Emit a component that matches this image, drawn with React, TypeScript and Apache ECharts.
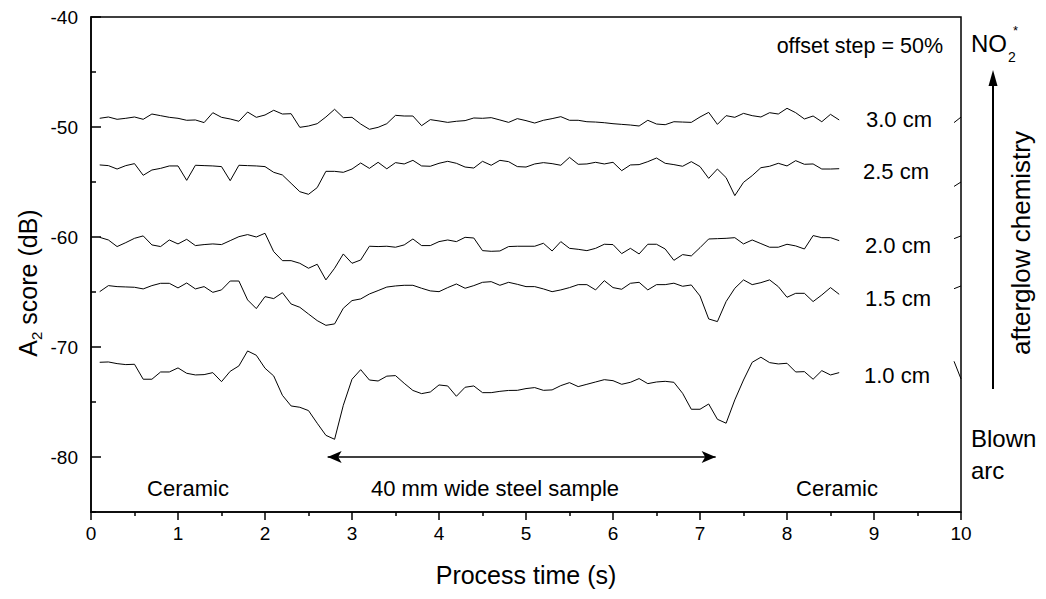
import React, { useEffect, useRef } from 'react';
import * as echarts from 'echarts';

const times = [
  0.1, 0.2, 0.3, 0.4, 0.5, 0.6, 0.7, 0.8, 0.9, 1.0, 1.1, 1.2, 1.3, 1.4, 1.5, 1.6, 1.7, 1.8, 1.9, 2.0,
  2.1, 2.2, 2.3, 2.4, 2.5, 2.6, 2.7, 2.8, 2.9, 3.0, 3.1, 3.2, 3.3, 3.4, 3.5, 3.6, 3.7, 3.8, 3.9, 4.0,
  4.1, 4.2, 4.3, 4.4, 4.5, 4.6, 4.7, 4.8, 4.9, 5.0, 5.1, 5.2, 5.3, 5.4, 5.5, 5.6, 5.7, 5.8, 5.9, 6.0,
  6.1, 6.2, 6.3, 6.4, 6.5, 6.6, 6.7, 6.8, 6.9, 7.0, 7.1, 7.2, 7.3, 7.4, 7.5, 7.6, 7.7, 7.8, 7.9, 8.0,
  8.1, 8.2, 8.3, 8.4, 8.5, 8.6,
];

const s30 = [
  -49.21, -49.09, -49.30, -49.21, -49.09, -49.30, -48.82, -48.97, -49.12, -49.21,
  -49.39, -49.36, -49.60, -48.70, -49.12, -49.27, -49.48, -48.64, -49.12, -48.91,
  -48.48, -48.82, -48.79, -50.03, -49.91, -49.70, -49.09, -48.39, -49.15, -49.12,
  -49.73, -50.21, -50.03, -49.70, -48.94, -49.00, -49.00, -49.88, -49.33, -49.45,
  -49.58, -49.48, -49.42, -49.18, -49.21, -49.15, -49.36, -49.58, -49.24, -49.42,
  -49.64, -49.39, -49.24, -49.06, -49.39, -49.39, -49.52, -49.55, -49.61, -49.70,
  -49.76, -49.82, -49.91, -49.39, -49.73, -49.79, -49.52, -49.55, -49.58, -49.09,
  -48.67, -49.76, -48.97, -49.12, -48.76, -48.97, -49.09, -48.70, -48.82, -48.30,
  -48.70, -49.27, -49.00, -49.52, -48.85, -49.36,
];

const s25 = [
  -53.45, -53.51, -53.82, -53.51, -53.33, -54.39, -53.91, -53.76, -53.54, -53.54,
  -54.85, -53.48, -53.51, -53.54, -53.60, -54.88, -53.48, -53.51, -53.54, -53.60,
  -54.12, -54.36, -55.12, -55.88, -56.12, -55.51, -54.03, -54.03, -54.12, -53.82,
  -53.27, -53.76, -53.21, -53.80, -53.24, -53.36, -53.03, -53.54, -53.57, -53.30,
  -53.12, -53.30, -53.64, -53.73, -53.12, -53.48, -53.03, -53.15, -53.60, -53.64,
  -53.36, -53.24, -53.33, -53.48, -52.76, -53.39, -53.36, -53.21, -53.36, -53.21,
  -53.97, -53.45, -53.42, -53.15, -52.82, -53.30, -53.42, -53.57, -53.15, -53.60,
  -54.67, -53.82, -54.60, -56.24, -55.03, -54.42, -53.70, -53.57, -53.30, -53.54,
  -53.06, -53.39, -53.36, -53.82, -53.82, -53.79,
];

const s20 = [
  -60.03, -60.27, -60.87, -60.51, -60.12, -59.90, -60.72, -60.87, -60.27, -60.63,
  -60.21, -60.78, -60.69, -60.63, -60.69, -60.33, -59.97, -59.78, -60.00, -59.66,
  -61.33, -62.15, -62.15, -62.39, -62.84, -62.48, -63.90, -62.84, -61.54, -62.39,
  -62.09, -60.84, -60.87, -60.84, -60.93, -60.72, -60.18, -60.78, -60.78, -60.42,
  -60.27, -60.42, -60.03, -60.09, -61.24, -61.30, -61.27, -60.87, -60.84, -60.84,
  -60.84, -60.57, -61.27, -60.42, -61.03, -61.12, -61.24, -61.03, -60.66, -60.69,
  -61.51, -61.03, -61.54, -60.66, -60.66, -61.09, -62.12, -61.60, -61.72, -60.97,
  -60.18, -60.15, -60.12, -60.06, -60.63, -60.27, -60.60, -60.93, -60.93, -60.66,
  -60.81, -61.09, -59.87, -60.06, -60.06, -60.33,
];

const s15 = [
  -64.97, -64.42, -64.51, -64.54, -64.57, -64.72, -64.42, -64.21, -64.21, -64.63,
  -64.18, -64.72, -64.51, -65.03, -64.81, -64.00, -64.00, -65.72, -66.51, -65.42,
  -65.60, -65.06, -66.09, -66.39, -67.00, -67.60, -68.03, -67.90, -66.48, -65.78,
  -65.63, -65.18, -64.87, -64.55, -64.45, -64.39, -64.39, -64.66, -64.90, -64.97,
  -64.60, -64.27, -64.66, -64.42, -64.12, -64.06, -64.39, -64.12, -64.30, -64.51,
  -64.51, -64.72, -64.97, -64.81, -64.60, -64.33, -64.33, -64.81, -63.97, -64.60,
  -64.75, -64.21, -64.12, -64.81, -64.33, -64.33, -64.20, -64.48, -64.36, -65.36,
  -67.45, -67.69, -65.87, -64.66, -63.90, -64.33, -64.15, -63.90, -64.51, -65.48,
  -65.12, -65.12, -65.87, -65.27, -64.60, -65.21,
];

const s10 = [
  -71.39, -71.36, -71.51, -71.60, -71.57, -72.93, -72.93, -72.27, -72.27, -71.90,
  -72.39, -72.54, -72.51, -72.33, -73.15, -72.21, -71.72, -70.36, -70.75, -71.93,
  -72.63, -74.39, -75.36, -75.48, -75.78, -76.93, -78.03, -78.39, -75.30, -72.93,
  -72.06, -73.00, -73.09, -72.65, -72.60, -73.30, -73.95, -74.24, -74.09, -73.45,
  -73.54, -74.48, -73.66, -73.54, -74.15, -74.15, -74.03, -73.95, -73.94, -73.78,
  -73.69, -73.94, -73.90, -73.51, -73.24, -73.60, -73.39, -73.18, -72.97, -73.06,
  -73.39, -73.21, -72.87, -73.33, -73.18, -73.12, -73.21, -74.21, -75.66, -75.66,
  -75.18, -76.57, -76.93, -74.81, -73.00, -71.39, -70.93, -71.42, -71.54, -71.48,
  -72.27, -72.24, -72.93, -72.15, -72.54, -72.33,
];

// short segments visible at the right edge of the frame
const tailTimes = [9.92, 10.0];
const tail30 = [-49.6, -49.1];
const tail25 = [-55.4, -55.0];
const tail20 = [-60.15, -59.9];
const tail15 = [-64.7, -64.45];
const tail10 = [-71.3, -72.9];

const seriesNames = ['3.0 cm', '2.5 cm', '2.0 cm', '1.5 cm', '1.0 cm'];
const seriesValues = [s30, s25, s20, s15, s10];
const seriesTails = [tail30, tail25, tail20, tail15, tail10];

const yLabels = [-80, -70, -60, -50, -40];
const yMinorTicks = [-85, -75, -65, -55, -45];

const sampleArrow = { from: 2.72, to: 7.18, y: -80 };

const FONT = 'Liberation Sans, Arial, sans-serif';

export default function App() {
  const ref = useRef<HTMLDivElement>(null);
  useEffect(() => {
    if (!ref.current) return;
    const chart = echarts.init(ref.current, undefined, { renderer: 'svg' });

    const series: any[] = seriesValues.map((vals, si) => {
      const data: any[] = times.map((t, i) => [t, vals[i]]);
      data.push([9.0, null]);
      tailTimes.forEach((t, i) => data.push([t, seriesTails[si][i]]));
      return {
        name: seriesNames[si],
        type: 'line',
        data,
        showSymbol: false,
        symbol: 'none',
        connectNulls: false,
        lineStyle: { color: '#000', width: 1 },
        silent: true,
      };
    });

    series.push({
      type: 'line',
      data: [],
      markLine: {
        silent: true,
        symbol: ['arrow', 'arrow'],
        symbolSize: [9, 14],
        label: { show: false },
        lineStyle: { color: '#000', width: 1.5, type: 'solid' },
        data: [[
          { coord: [sampleArrow.from, sampleArrow.y] },
          { coord: [sampleArrow.to, sampleArrow.y] },
        ]],
      },
    });

    const textStyle = (txt: string, x: number, y: number, size = 20, extra: any = {}) => ({
      type: 'text',
      x,
      y,
      style: {
        text: txt,
        fontFamily: FONT,
        fontSize: size,
        fill: '#000',
        textVerticalAlign: 'middle',
        verticalAlign: 'middle',
        ...extra,
      },
    });

    const option: any = {
      animation: false,
      backgroundColor: '#fff',
      grid: {
        left: 91, right: 85, top: 17, bottom: 87,
        show: true, borderColor: '#000', borderWidth: 1.5, backgroundColor: 'transparent',
      },
      xAxis: {
        type: 'value',
        min: 0, max: 10, interval: 1,
        axisLine: { lineStyle: { color: '#000', width: 1.5 } },
        axisTick: { show: true, inside: false, length: 8, lineStyle: { color: '#000', width: 1.5 } },
        minorTick: { show: true, splitNumber: 2, length: 4, lineStyle: { color: '#000', width: 1.5 } },
        axisLabel: { color: '#000', fontSize: 19, fontFamily: FONT, margin: 12 },
        splitLine: { show: false },
        name: 'Process time (s)',
        nameLocation: 'middle',
        nameGap: 50,
        nameTextStyle: { color: '#000', fontSize: 25, fontFamily: FONT },
      },
      yAxis: [
        {
          type: 'value',
          min: -85, max: -40,
          axisLine: { lineStyle: { color: '#000', width: 1.5 } },
          axisTick: { show: true, inside: true, length: 10, customValues: yLabels, lineStyle: { color: '#000', width: 1.5 } },
          axisLabel: { color: '#000', fontSize: 19, fontFamily: FONT, margin: 13, customValues: yLabels },
          splitLine: { show: false },
        },
        {
          type: 'value',
          min: -85, max: -40,
          position: 'left',
          axisLine: { show: false },
          axisTick: { show: true, inside: true, length: 5, customValues: yMinorTicks, lineStyle: { color: '#000', width: 1.5 } },
          axisLabel: { show: false },
          splitLine: { show: false },
        },
      ],
      series,
      graphic: [
        {
          type: 'text',
          x: 28,
          y: 283,
          rotation: Math.PI / 2,
          style: {
            text: '{a|A}{s|2}{a| score (dB)}',
            fill: '#000',
            fontFamily: FONT,
            align: 'center', textAlign: 'center', verticalAlign: 'middle', textVerticalAlign: 'middle',
            rich: {
              a: { fontSize: 25, fontFamily: FONT, fill: '#000', lineHeight: 32, verticalAlign: 'middle' },
              s: { fontSize: 15, fontFamily: FONT, fill: '#000', lineHeight: 32, verticalAlign: 'bottom' },
            },
          },
        },
        textStyle('offset step = 50%', 943, 46, 21.5, { textAlign: 'right', align: 'right' }),
        textStyle('3.0 cm', 866, 119, 22),
        textStyle('2.5 cm', 863, 171, 22),
        textStyle('2.0 cm', 865, 245, 22),
        textStyle('1.5 cm', 865, 298, 22),
        textStyle('1.0 cm', 864, 375, 22),
        textStyle('Ceramic', 188, 488, 22, { textAlign: 'center', align: 'center' }),
        textStyle('40 mm wide steel sample', 495, 488, 22, { textAlign: 'center', align: 'center' }),
        textStyle('Ceramic', 837, 488, 22, { textAlign: 'center', align: 'center' }),
        textStyle('NO', 971, 43, 24),
        textStyle('2', 1008, 57, 14),
        textStyle('*', 1013, 30, 13),
        textStyle('Blown', 971, 438, 24),
        textStyle('arc', 971, 470, 24),
        {
          type: 'text',
          x: 1021,
          y: 243,
          rotation: Math.PI / 2,
          style: {
            text: 'afterglow chemistry',
            fontFamily: FONT, fontSize: 26, fill: '#000',
            textAlign: 'center', align: 'center', textVerticalAlign: 'middle', verticalAlign: 'middle',
          },
        },
        {
          type: 'line',
          shape: { x1: 993, y1: 389, x2: 993, y2: 84 },
          style: { stroke: '#000', lineWidth: 2 },
        },
        {
          type: 'polygon',
          shape: { points: [[993, 70], [988.5, 86], [997.5, 86]] },
          style: { fill: '#000' },
        },
      ],
    };
    chart.setOption(option);
    return () => chart.dispose();
  }, []);

  return (
    <div
      ref={ref}
      style={{ position: 'fixed', left: 0, top: 0, width: 1046, height: 599, background: '#fff' }}
    />
  );
}
